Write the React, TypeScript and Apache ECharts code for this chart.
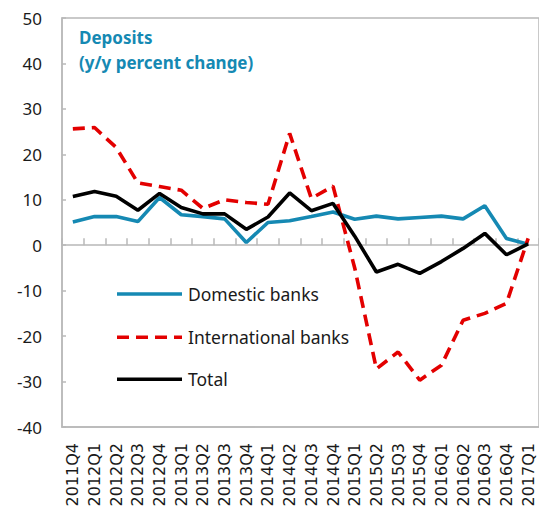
import React, { useEffect, useRef } from "react";
import * as echarts from "echarts";

const categories = [
  "2011Q4", "2012Q1", "2012Q2", "2012Q3", "2012Q4", "2013Q1", "2013Q2", "2013Q3",
  "2013Q4", "2014Q1", "2014Q2", "2014Q3", "2014Q4", "2015Q1", "2015Q2", "2015Q3",
  "2015Q4", "2016Q1", "2016Q2", "2016Q3", "2016Q4", "2017Q1",
];
const domesticBanks = [5.1, 6.3, 6.3, 5.2, 10.5, 6.7, 6.3, 5.8, 0.6, 5.0, 5.4, 6.3, 7.3, 5.7, 6.4, 5.8, 6.1, 6.4, 5.8, 8.7, 1.5, 0.2];
const internationalBanks = [25.6, 25.9, 21.5, 13.7, 12.9, 12.1, 8.1, 10.0, 9.4, 9.0, 24.6, 10.3, 13.0, -5.0, -27.2, -23.5, -29.7, -26.4, -16.5, -15.0, -12.8, 1.5];
const total = [10.7, 11.8, 10.8, 7.7, 11.4, 8.3, 6.9, 6.9, 3.5, 6.2, 11.5, 7.6, 9.2, 2.0, -5.9, -4.2, -6.2, -3.6, -0.7, 2.6, -2.1, 0.3];
const legendNames = ["Domestic banks", "International banks", "Total"];

const BLUE = "#1589b3";
const RED = "#e30000";
const BLACK = "#000000";
const GRAY = "#b8b8b8";
const LW = 3.6;
const DASH = [12, 7];

export default function App() {
  const ref = useRef<HTMLDivElement>(null);
  useEffect(() => {
    if (!ref.current) return;
    const chart = echarts.init(ref.current, undefined, { renderer: "svg" });
    const legendColors = [BLUE, RED, BLACK];
    const legendY = [294, 337.3, 379.3];
    const legendGraphics: any[] = [];
    legendNames.forEach((name, i) => {
      legendGraphics.push({
        type: "line",
        shape: { x1: 117, y1: legendY[i], x2: 182, y2: legendY[i] },
        style: {
          stroke: legendColors[i],
          lineWidth: LW,
          lineDash: i === 1 ? DASH : null,
        },
      });
      legendGraphics.push({
        type: "text",
        x: 188,
        y: legendY[i],
        style: {
          text: name,
          fontFamily: "Noto Sans",
          fontSize: 17.5,
          fill: "#1a1a1a",
          verticalAlign: "middle",
          align: "left",
        },
      });
    });
    chart.setOption({
      animation: false,
      backgroundColor: "#ffffff",
      title: {
        text: "Deposits\n(y/y percent change)",
        left: 79,
        top: 25,
        padding: 0,
        textStyle: {
          fontFamily: "Noto Sans",
          fontSize: 17,
          fontWeight: "bold",
          color: BLUE,
          lineHeight: 25,
        },
      },
      graphic: legendGraphics,
      grid: {
        left: 62,
        top: 18,
        width: 481,
        height: 409,
        show: true,
        borderColor: GRAY,
        borderWidth: 1.5,
        containLabel: false,
      },
      xAxis: [
        {
          type: "category",
          data: categories,
          position: "bottom",
          boundaryGap: true,
          axisLine: { show: true, onZero: false, lineStyle: { color: GRAY, width: 1.5 } },
          axisTick: { show: false },
          axisLabel: {
            interval: 0,
            rotate: 90,
            margin: 16,
            fontFamily: "DejaVu Sans",
            fontSize: 16,
            color: "#1a1a1a",
          },
        },
        {
          type: "category",
          data: categories,
          position: "bottom",
          boundaryGap: true,
          axisLine: { show: true, onZero: true, lineStyle: { color: GRAY, width: 1.5 } },
          axisTick: { show: true, inside: true, length: 7, interval: 0, lineStyle: { color: GRAY, width: 1.5 } },
          axisLabel: { show: false },
        },
      ],
      yAxis: {
        type: "value",
        min: -40,
        max: 50,
        interval: 10,
        axisLine: { show: true, lineStyle: { color: GRAY, width: 1.5 } },
        axisTick: { show: true, inside: true, length: 4, lineStyle: { color: GRAY, width: 1.5 } },
        splitLine: { show: false },
        axisLabel: {
          margin: 20,
          fontFamily: "Noto Sans",
          fontSize: 17,
          color: "#1a1a1a",
        },
      },
      series: [
        {
          name: legendNames[0],
          type: "line",
          data: domesticBanks,
          symbol: "none",
          lineStyle: { color: BLUE, width: LW },
          itemStyle: { color: BLUE },
        },
        {
          name: legendNames[1],
          type: "line",
          data: internationalBanks,
          symbol: "none",
          lineStyle: { color: RED, width: LW, type: DASH },
          itemStyle: { color: RED },
        },
        {
          name: legendNames[2],
          type: "line",
          data: total,
          symbol: "none",
          lineStyle: { color: BLACK, width: LW },
          itemStyle: { color: BLACK },
        },
      ],
    });
    return () => chart.dispose();
  }, []);
  return (
    <div
      ref={ref}
      style={{ position: "fixed", left: 0, top: 0, width: 539, height: 511, background: "#fff" }}
    />
  );
}
